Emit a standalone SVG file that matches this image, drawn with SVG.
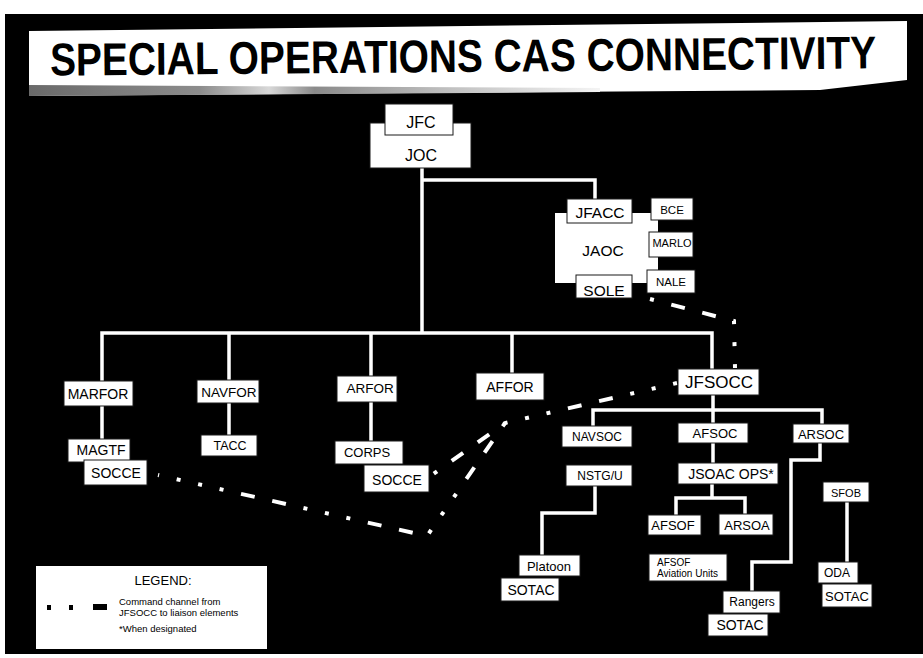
<svg xmlns="http://www.w3.org/2000/svg" width="923" height="658" viewBox="0 0 923 658">
<style>
.box{fill:#fff;stroke:#1a1a1a;stroke-width:1}
.t{font-family:"Liberation Sans",Arial,Helvetica,sans-serif;fill:#000;text-anchor:middle;dominant-baseline:central}
.ln{stroke:#fff;stroke-width:3.5;fill:none;stroke-linecap:square}
.cmd{stroke:#fff;stroke-width:4;fill:none;stroke-dasharray:4 18 4 18 4 18 14 18 14 18}
</style>
<defs>
<linearGradient id="strip" x1="0" y1="0" x2="1" y2="0">
<stop offset="0" stop-color="#6a6a6a"/>
<stop offset="0.3" stop-color="#8c8c8c"/>
<stop offset="0.42" stop-color="#d8d8d8"/>
<stop offset="0.5" stop-color="#8a8a8a"/>
<stop offset="0.72" stop-color="#bdbdbd"/>
<stop offset="1" stop-color="#f4f4f4"/>
</linearGradient>
</defs>
<rect x="0" y="0" width="923" height="658" fill="#fff"/>
<rect x="5" y="14" width="918" height="640" fill="#000"/>
<g id="title">
<polygon points="29,31 907,21 907,80 820,90 29,96" fill="#fff"/>
<polygon points="29,85 600,88 600,92 29,96" fill="url(#strip)"/>
<text x="463" y="56" font-size="46" font-weight="bold" class="t" textLength="826" lengthAdjust="spacingAndGlyphs" transform="rotate(-0.5 463 56)">SPECIAL OPERATIONS CAS CONNECTIVITY</text>
</g>
<g id="connectors">
<path class="ln" d="M422,168 V333 M422,180 H595 V199 M102,333 H712 M102,333 V381 M229,333 V380 M371,333 V376 M512,333 V373 M712,333 V369"/>
<path class="ln" d="M102,406 V439 M229,403 V435 M371,402 V441"/>
<path class="ln" d="M713,395 V410 M593,410 H822 M593,410 V426 M713,410 V423 M822,410 V424"/>
<path class="ln" d="M713,443 V463 M712,484 V498 M676,498 H745 M676,498 V515 M745,498 V514"/>
<path class="ln" d="M595,486 V513 H542 V555"/>
<path class="ln" d="M820,443 V460 H791 V562 H752 V591"/>
<path class="ln" d="M847,502 V562"/>
<path class="cmd" stroke-dashoffset="44" d="M650,299 L734,321 L735,368"/>
<path class="cmd" d="M677,383 L505,423 L432,475"/>
<path class="cmd" stroke-dashoffset="44" d="M505,423 L427,536 L158,475"/>
</g>
<g id="JOC"><rect class="box" x="370" y="123" width="101" height="45"/><text class="t" x="421" y="155" font-size="16">JOC</text></g>
<g id="JFC"><rect class="box" x="385" y="104" width="68" height="31"/><text class="t" x="421" y="122" font-size="16">JFC</text></g>
<g id="JAOC"><rect x="555" y="213" width="103" height="70" fill="#fff"/><text class="t" x="603" y="250" font-size="15.5">JAOC</text></g>
<g id="JFACC"><rect class="box" x="567" y="199" width="65" height="24"/><text class="t" x="600" y="212" font-size="15.5">JFACC</text></g>
<g id="SOLE"><rect class="box" x="576" y="275" width="56" height="23"/><text class="t" x="604" y="290" font-size="15.5">SOLE</text></g>
<g id="BCE"><rect class="box" x="651" y="198" width="42" height="22"/><text class="t" x="672" y="210" font-size="11.5">BCE</text></g>
<g id="MARLO"><rect class="box" x="649" y="232" width="44" height="25"/><text class="t" x="672" y="243" font-size="11">MARLO</text></g>
<g id="NALE"><rect class="box" x="647" y="270" width="48" height="23"/><text class="t" x="671" y="282" font-size="11.5">NALE</text></g>
<g id="MARFOR"><rect class="box" x="64" y="381" width="69" height="25"/><text class="t" x="98" y="394" font-size="14">MARFOR</text></g>
<g id="NAVFOR"><rect class="box" x="197" y="380" width="62" height="23"/><text class="t" x="229" y="392" font-size="13.5">NAVFOR</text></g>
<g id="ARFOR"><rect class="box" x="337" y="376" width="60" height="26"/><text class="t" x="370" y="388" font-size="13.5">ARFOR</text></g>
<g id="AFFOR"><rect class="box" x="476" y="373" width="68" height="27"/><text class="t" x="510" y="387" font-size="14">AFFOR</text></g>
<g id="JFSOCC"><rect class="box" x="678" y="369" width="81" height="26"/><text class="t" x="719" y="382" font-size="17">JFSOCC</text></g>
<g id="MAGTF"><rect class="box" x="68" y="439" width="62" height="23"/><text class="t" x="101" y="450" font-size="14">MAGTF</text></g>
<g id="SOCCE1"><rect class="box" x="84" y="460" width="63" height="25"/><text class="t" x="116" y="473" font-size="14">SOCCE</text></g>
<g id="TACC"><rect class="box" x="201" y="435" width="56" height="21"/><text class="t" x="230" y="446" font-size="12.5">TACC</text></g>
<g id="CORPS"><rect class="box" x="335" y="441" width="68" height="23"/><text class="t" x="367" y="452" font-size="13">CORPS</text></g>
<g id="SOCCE2"><rect class="box" x="364" y="465" width="65" height="27"/><text class="t" x="397" y="480" font-size="14">SOCCE</text></g>
<g id="NAVSOC"><rect class="box" x="562" y="426" width="70" height="21"/><text class="t" x="597" y="437" font-size="12">NAVSOC</text></g>
<g id="AFSOC"><rect class="box" x="678" y="423" width="70" height="20"/><text class="t" x="715" y="433" font-size="13">AFSOC</text></g>
<g id="ARSOC"><rect class="box" x="793" y="424" width="56" height="19"/><text class="t" x="821" y="434" font-size="13">ARSOC</text></g>
<g id="NSTGU"><rect class="box" x="566" y="465" width="66" height="21"/><text class="t" x="600" y="476" font-size="12">NSTG/U</text></g>
<g id="JSOACOPS"><rect class="box" x="678" y="463" width="100" height="21"/><text class="t" x="731" y="474" font-size="14">JSOAC OPS*</text></g>
<g id="SFOB"><rect class="box" x="823" y="482" width="46" height="20"/><text class="t" x="846" y="493" font-size="11">SFOB</text></g>
<g id="AFSOF"><rect class="box" x="648" y="515" width="53" height="20"/><text class="t" x="673" y="525" font-size="13">AFSOF</text></g>
<g id="ARSOA"><rect class="box" x="719" y="514" width="54" height="21"/><text class="t" x="747" y="525" font-size="13">ARSOA</text></g>
<g id="AFSOFAviation"><rect class="box" x="649" y="554" width="78" height="27"/><text class="t" x="657" y="562" font-size="10" style="text-anchor:start">AFSOF</text><text class="t" x="657" y="573.5" font-size="10" style="text-anchor:start">Aviation Units</text></g>
<g id="Platoon"><rect class="box" x="519" y="555" width="61" height="21"/><text class="t" x="549" y="566" font-size="13">Platoon</text></g>
<g id="SOTAC1"><rect class="box" x="501" y="578" width="58" height="23"/><text class="t" x="531" y="590" font-size="14">SOTAC</text></g>
<g id="Rangers"><rect class="box" x="723" y="591" width="57" height="22"/><text class="t" x="752" y="602" font-size="12">Rangers</text></g>
<g id="SOTAC2"><rect class="box" x="708" y="614" width="60" height="22"/><text class="t" x="740" y="625" font-size="14">SOTAC</text></g>
<g id="ODA"><rect class="box" x="818" y="562" width="40" height="21"/><text class="t" x="837" y="573" font-size="12">ODA</text></g>
<g id="SOTAC3"><rect class="box" x="822" y="584" width="50" height="23"/><text class="t" x="847" y="596" font-size="13">SOTAC</text></g>
<g id="legend">
<rect x="36" y="566" width="231" height="83" fill="#fff"/>
<text class="t" x="163" y="580" font-size="13">LEGEND:</text>
<rect x="47" y="605" width="4" height="5" fill="#000"/>
<rect x="69" y="605" width="4" height="5" fill="#000"/>
<rect x="93" y="604" width="14" height="6" fill="#000"/>
<text class="t" x="119" y="601" font-size="9.5" style="text-anchor:start">Command channel from</text>
<text class="t" x="119" y="612" font-size="9.5" style="text-anchor:start">JFSOCC to liaison elements</text>
<text class="t" x="119" y="628" font-size="9.5" style="text-anchor:start">*When designated</text>
</g>
</svg>
